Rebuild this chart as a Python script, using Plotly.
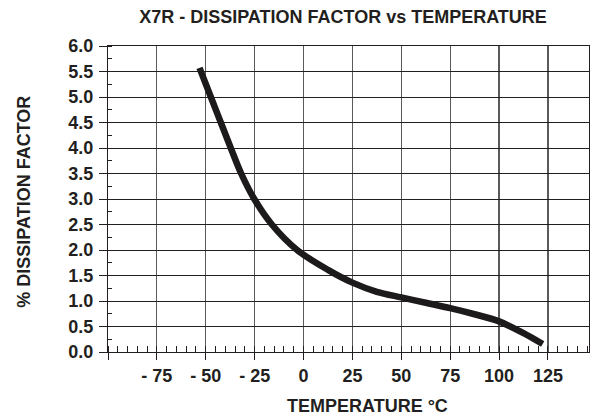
import plotly.graph_objects as go

# Data
temperature_c = [-53.2, -47.4, -42.3, -37.2, -31.9, -25.2, -16.2, -3.3, 12.5, 25, 37.5, 50, 62.5, 75, 87.5, 100, 112.5, 122.3]
dissipation_pct = [5.57, 5.0, 4.5, 4.0, 3.5, 3.0, 2.5, 2.0, 1.61, 1.36, 1.18, 1.07, 0.965, 0.86, 0.74, 0.60, 0.37, 0.157]

x_tick_vals = [-100, -75, -50, -25, 0, 25, 50, 75, 100, 125]
x_tick_text = ["", "- 75", "- 50", "- 25", "0", "25", "50", "75", "100", "125"]
y_tick_vals = [0, 0.5, 1, 1.5, 2, 2.5, 3, 3.5, 4, 4.5, 5, 5.5, 6]
y_tick_text = ["0.0", "0.5", "1.0", "1.5", "2.0", "2.5", "3.0", "3.5", "4.0", "4.5", "5.0", "5.5", "6.0"]

FONT = "Liberation Sans, Arial, Helvetica, sans-serif"
INK = "#231f20"

fig = go.Figure()
fig.add_trace(go.Scatter(
    x=temperature_c, y=dissipation_pct, mode="lines",
    line=dict(color="#1c1a1b", width=6.5, shape="spline", smoothing=0.9),
    hoverinfo="skip", showlegend=False,
))

fig.update_layout(
    width=600, height=418,
    margin=dict(l=108, r=11, t=46, b=66),
    paper_bgcolor="white", plot_bgcolor="white",
    title=dict(text="<b>X7R - DISSIPATION FACTOR vs TEMPERATURE</b>",
               x=0.5717, xanchor="center", y=0.959, yanchor="middle",
               font=dict(family=FONT, size=18, color=INK)),
    font=dict(family=FONT, color=INK),
    annotations=[
        dict(text="<b>TEMPERATURE °C</b>", xref="paper", yref="paper",
             x=0.539, y=-0.178, xanchor="center", yanchor="middle", showarrow=False,
             font=dict(family=FONT, size=18, color=INK)),
        dict(text="<b>% DISSIPATION FACTOR</b>", xref="paper", yref="paper",
             x=-0.1748, y=0.491, xanchor="center", yanchor="middle", showarrow=False,
             textangle=-90, font=dict(family=FONT, size=18, color=INK)),
    ],
)

fig.update_xaxes(
    range=[-100, 146], tickvals=x_tick_vals, ticktext=x_tick_text,
    ticks="outside", ticklen=7, tickcolor=INK, tickwidth=1,
    tickfont=dict(family=FONT, size=18, color=INK, weight="bold"),
    showgrid=True, gridcolor="#5a5a5a", gridwidth=1.2,
    showline=True, linecolor=INK, linewidth=1.2, mirror=True,
    zeroline=False, automargin=False,
    minor=dict(ticks="inside", ticklen=6, tickcolor=INK, dtick=5, tick0=0, showgrid=False),
)

fig.update_yaxes(
    range=[0, 6], tickvals=y_tick_vals, ticktext=y_tick_text,
    ticks="outside", ticklen=8, tickcolor=INK, tickwidth=1,
    ticklabelstandoff=2,
    tickfont=dict(family=FONT, size=18, color=INK, weight="bold"),
    showgrid=True, gridcolor=INK, gridwidth=1,
    showline=True, linecolor=INK, linewidth=1.2, mirror=True,
    zeroline=False, automargin=False,
    minor=dict(ticks="inside", ticklen=4, tickcolor=INK, dtick=0.25, tick0=0, showgrid=False),
)

# remove the browser's default 8px body margin so the figure fills the window exactly
fig.write_html("out.html", config={"displayModeBar": False, "staticPlot": True},
               post_script="document.body.style.margin='0';")
